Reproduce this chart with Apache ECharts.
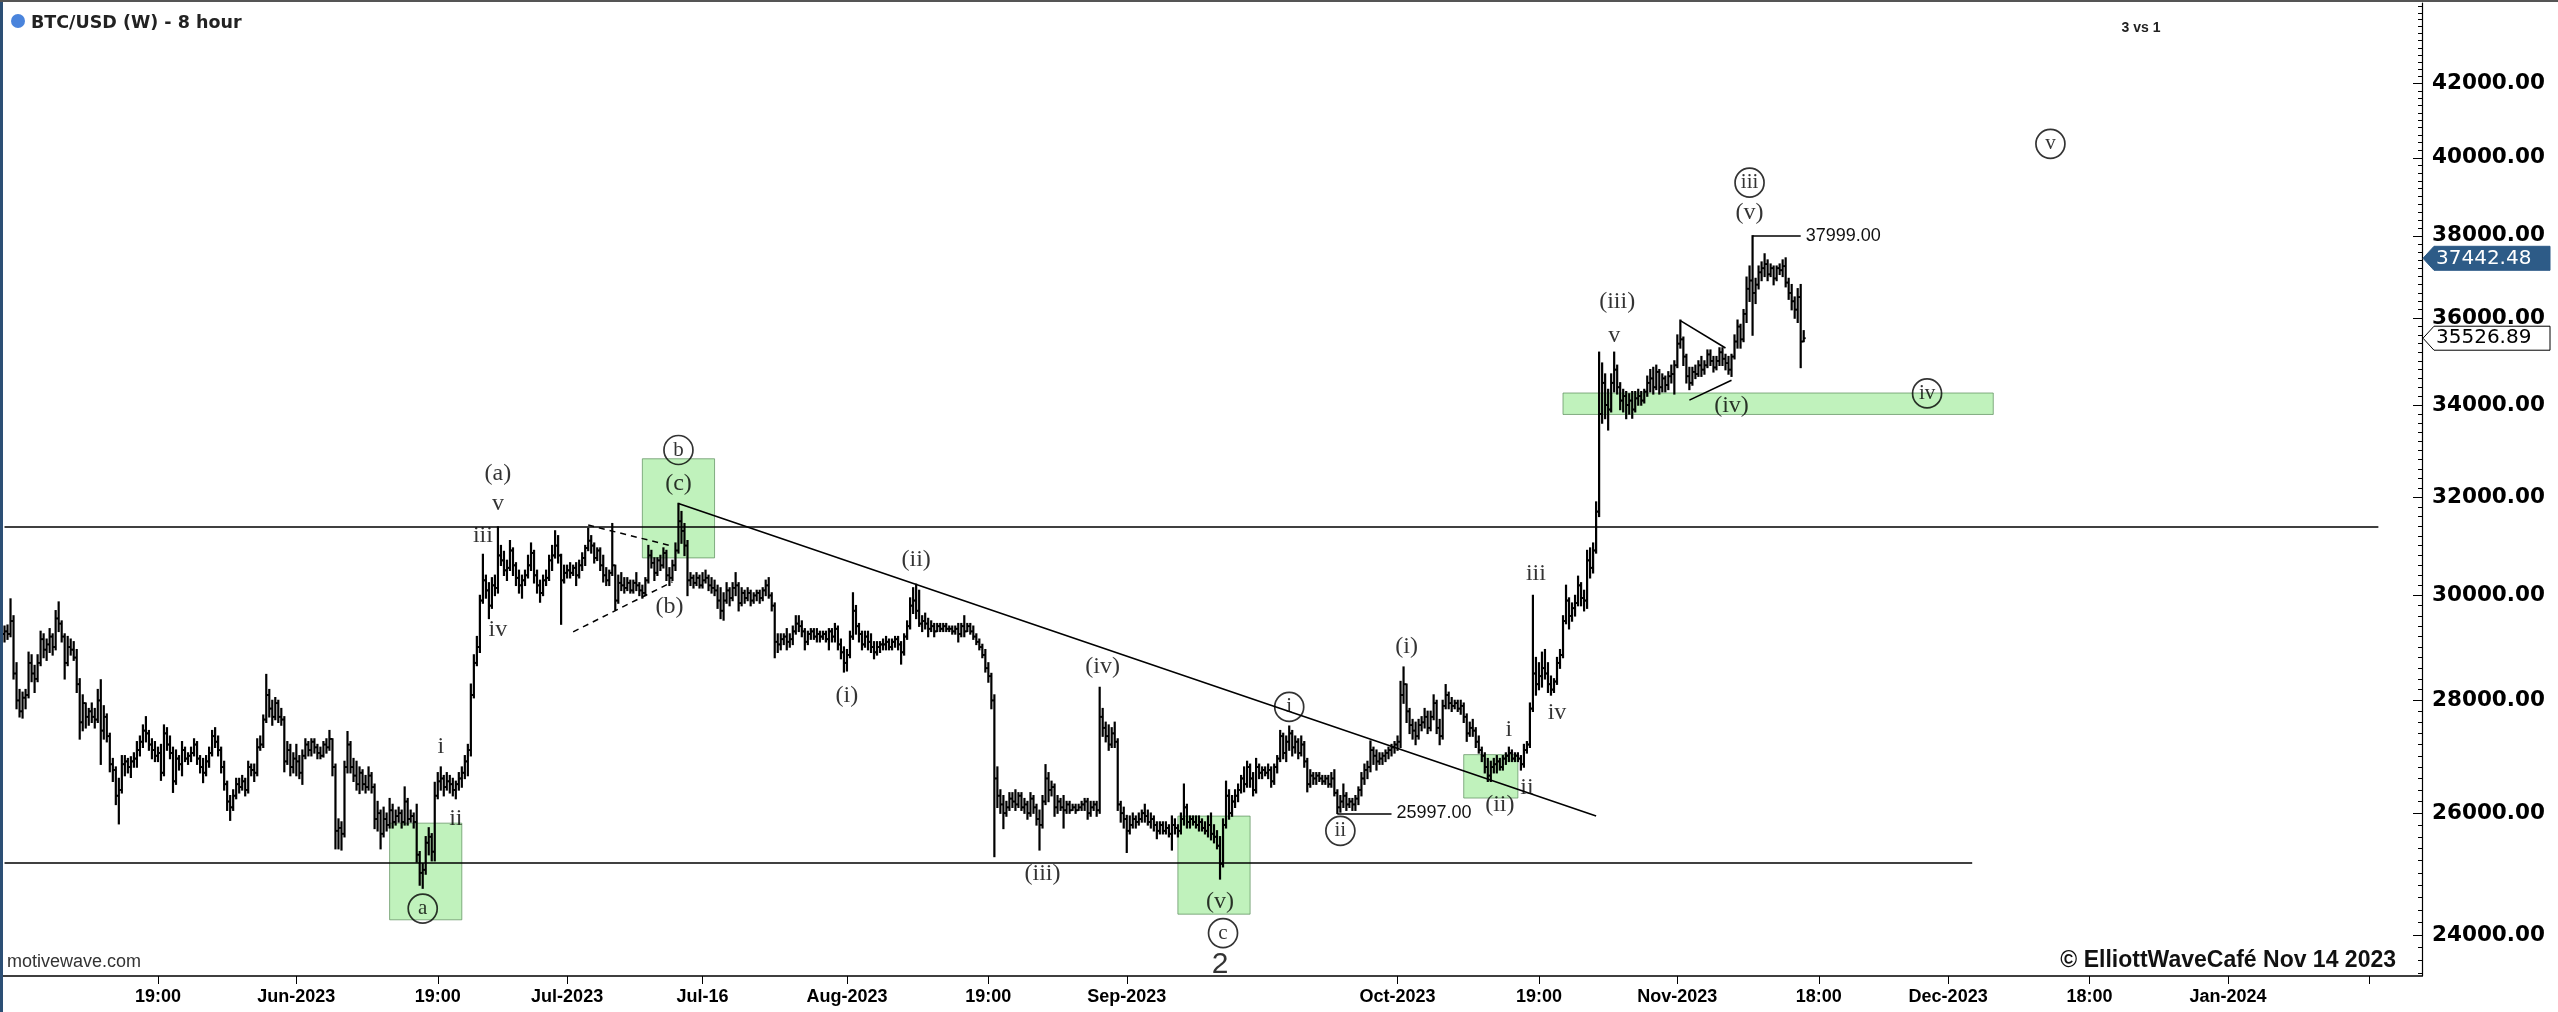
<!DOCTYPE html>
<html><head><meta charset="utf-8">
<script src="https://cdn.jsdelivr.net/npm/echarts@6/dist/echarts.min.js"></script>
<style>html,body{margin:0;padding:0;background:#fff;overflow:hidden}#chart{width:2558px;height:1012px;}</style>
</head><body><div id="chart"></div>
<script>
// ---- 8-hour OHLC bars [open, high, low, close], first bar = 2023-04-29 19:00 ----
const barsAprMay = [
[29250,29400,29100,29300],[29300,29420,29150,29250],[29250,29930,29200,29500],[29500,29600,28400,28500],[28500,28700,27850,28000],
[28000,28200,27700,27800],[27800,28150,27680,28050],[28050,28200,27850,28100],[28100,28900,28050,28700],[28700,28850,28350,28500],
[28500,28650,28150,28400],[28400,28850,28350,28700],[28700,29300,28650,29150],[29150,29250,28800,28950],[28950,29150,28750,29050],
[29050,29350,28900,29200],[29200,29250,28850,29000],[29000,29700,28950,29550],[29550,29870,29300,29450],[29450,29500,29100,29200],
[29200,29250,28400,28700],[28700,29200,28650,29000],[29000,29150,28850,28950],[28950,29100,28750,28800],[28800,28950,28150,28300],
[28300,28400,27300,27600],[27600,28100,27450,27950],[27950,27950,27500,27700],[27700,27850,27550,27800],[27800,27950,27600,27700],
[27700,27850,27500,27650],[27650,28200,27600,28000],[28000,28380,26850,27450],[27450,27900,27300,27700],[27700,27750,27250,27350],
[27350,27400,26720,26850],[26850,26950,26550,26750],[26750,26800,26150,26300],[26300,26600,25820,26400],[26400,27000,26350,26850],
[26850,27000,26650,26900],[26900,26950,26700,26800],[26800,26980,26620,26900],[26900,27050,26800,26950],[26950,27250,26800,27100],
[27100,27350,27000,27250],[27250,27550,27150,27450],[27450,27700,27250,27400],[27400,27450,27100,27200],[27200,27300,26950,27100],
[27100,27250,26900,27000],[27000,27150,26900,27050],[27050,27200,26570,26700],[26700,27550,26650,27400],[27400,27500,27100,27200],
[27200,27350,26950,27050],[27050,27150,26360,26550],[26550,27100,26500,26950],[26950,27000,26750,26850],[26850,27250,26650,27100],
[27100,27150,26900,26950],[26950,27050,26850,27000],[27000,27150,26900,27050],[27050,27300,27000,27200],[27200,27250,26850,26950],
[26950,27000,26700,26800],[26800,26950,26530,26700],[26700,27000,26650,26900],[26900,27150,26800,27050],[27050,27450,27000,27350],
[27350,27500,27150,27250],[27250,27350,27000,27100],[27100,27150,26700,26800],[26800,26900,26400,26500],[26500,26550,26050,26200],
[26200,26300,25880,26100],[26100,26400,26050,26300],[26300,26600,26250,26500],[26500,26600,26350,26450],[26450,26650,26400,26550],
[26550,26600,26300,26400],[26400,26900,26350,26800],[26800,26850,26650,26750],[26750,26850,26550,26700],[26700,27300,26650,27150],
[27150,27350,27100,27200],[27200,27730,27150,27650],[27650,28480,27600,28100],[28100,28200,27700,27850],[27850,28000,27550,27700],
[27700,28050,27650,27950],[27950,28000,27600,27700],[27700,27850,27550,27650],[27650,27700,26720,26900],[26900,27250,26850,27100],
[27100,27200,26650,26800],[26800,27050,26700,26950]
];
const barsJun = [
[26950,27200,26650,26900],[26900,27000,26600,26700],[26700,27100,26500,27000],[27000,27300,26950,27200],[27200,27250,27000,27100],
[27100,27300,27000,27250],[27250,27300,27050,27150],[27150,27200,26950,27050],[27050,27150,26950,27000],[27000,27250,26980,27200],
[27200,27300,27050,27150],[27150,27450,27100,27300],[27300,27300,26650,26800],[26800,26850,25400,25700],[25700,25900,25400,25750],
[25750,25850,25380,25650],[25650,26900,25600,26800],[26800,27430,26700,27200],[27200,27250,26700,26800],[26800,26950,26550,26650],
[26650,26900,26400,26500],[26500,26800,26340,26700],[26700,26750,26400,26500],[26500,26650,26350,26450],[26450,26800,26400,26650],
[26650,26700,26350,26450],[26450,26500,25740,25900],[25900,26200,25700,26000],[26000,26050,25400,25650],[25650,26100,25600,25900],
[25900,26000,25700,25800],[25800,26250,25750,26050],[26050,26150,25750,25850],[25850,26050,25800,25950],[25950,26100,25850,26000],
[26000,26050,25750,25850],[25850,26450,25800,26200],[26200,26250,25800,25900],[25900,26050,25850,25950],[25950,26000,25750,25850],
[25850,26150,25180,25300],[25300,25350,24800,25000],[25000,25150,24750,25050],[25050,25600,24980,25500],[25500,25750,25300,25600],
[25600,25650,25200,25350],[25350,26530,25200,26300],[26300,26700,26250,26550],[26550,26800,26400,26600],[26600,26650,26300,26450],
[26450,26700,26400,26550],[26550,26650,26350,26500],[26500,26600,26300,26400],[26400,26550,26250,26500],[26500,26700,26400,26600],
[26600,26800,26450,26700],[26700,27000,26600,26900],[26900,27200,26650,27100],[27100,28300,27000,28100],[28100,28850,28050,28700],
[28700,29200,28650,29000],[29000,30000,28900,29900],[29900,30820,29850,30300],[30300,30400,29950,30100],[30100,30250,29550,29800],
[29800,30350,29750,30200],[30200,30400,30000,30150],[30150,31380,30050,30800],[30800,31000,30600,30700],[30700,30880,30400,30500],
[30500,30700,30300,30550],[30550,31100,30500,30900],[30900,30950,30400,30600],[30600,30650,30200,30350],[30350,30500,30050,30200],
[30200,30400,29950,30300],[30300,30500,30200,30400],[30400,30800,30350,30600],[30600,31050,30500,30850],[30850,30900,30250,30400],
[30400,30500,30050,30200],[30200,30300,29870,30050],[30050,30400,30000,30300],[30300,30500,30200,30350],[30350,30800,30300,30700],
[30700,31000,30500,30800],[30800,31300,30750,31000],[31000,31200,30650,30800],[30800,30820,29440,30300],[30300,30600,30250,30450]
];
const barsJul = [
[30450,30600,30350,30500],[30500,30650,30350,30450],[30450,30600,30400,30550],[30550,30650,30200,30400],[30400,30700,30350,30600],
[30600,30850,30500,30750],[30750,31000,30600,30950],[30950,31350,30900,31100],[31100,31200,30850,31000],[31000,31050,30650,30750],
[30750,30950,30700,30900],[30900,30950,30500,30600],[30600,30800,30270,30400],[30400,30550,30200,30300],[30300,30500,30200,30450],
[30450,31450,30400,30600],[30600,30600,29720,29900],[29900,30400,29850,30250],[30250,30450,30100,30200],[30200,30350,30050,30150],
[30150,30350,30100,30250],[30250,30300,30050,30100],[30100,30300,30050,30250],[30250,30450,30100,30200],[30200,30250,30000,30100],
[30100,30200,29950,30050],[30050,30350,30000,30300],[30300,31000,30250,30800],[30800,30900,30550,30650],[30650,30750,30300,30450],
[30450,30750,30400,30700],[30700,30800,30500,30600],[30600,30950,30550,30850],[30850,30900,30300,30400],[30400,30550,30200,30350],
[30350,30700,30300,30600],[30600,31050,30500,30900],[30900,31870,30850,31500],[31500,31700,31050,31300],[31300,31450,30800,31000],
[31000,31100,30000,30300],[30300,30450,30200,30350],[30350,30400,30150,30250],[30250,30450,30200,30350],[30350,30400,30150,30200],
[30200,30450,30150,30300],[30300,30500,30250,30350],[30350,30400,30100,30200],[30200,30350,30050,30150],[30150,30300,30000,30100],
[30100,30200,29750,29900],[29900,30150,29550,29700],[29700,30050,29520,29900],[29900,30250,29850,30100],[30100,30150,29800,29950],
[29950,30250,29900,30150],[30150,30450,30000,30200],[30200,30250,29700,29850],[29850,30150,29800,30050],[30050,30100,29850,29950],
[29950,30150,29900,30050],[30050,30100,29800,29900],[29900,30050,29850,30000],[30000,30100,29900,30050],[30050,30100,29850,29950],
[29950,30150,29900,30100],[30100,30300,30000,30200],[30200,30350,29950,30000],[30000,30050,29700,29800],[29800,29850,28800,29100],
[29100,29250,28900,29050],[29050,29250,28950,29150],[29150,29250,29050,29200],[29200,29350,28950,29100],[29100,29250,29000,29150],
[29150,29400,29050,29300],[29300,29600,29250,29450],[29450,29600,29300,29400],[29400,29500,29200,29300],[29300,29350,28950,29100],
[29100,29300,29050,29250],[29250,29350,29150,29300],[29300,29350,29150,29200],[29200,29350,29100,29250],[29250,29300,29100,29200],
[29200,29300,29150,29250],[29250,29300,29100,29150],[29150,29350,28950,29300],[29300,29350,29100,29200],[29200,29450,29100,29350],
[29350,29400,28950,29050],[29050,29150,28780,28900],[28900,29000,28530,28700]
];
const barsAug = [
[28700,28950,28550,28850],[28850,29300,28800,29200],[29200,30050,29150,29700],[29700,29800,29250,29400],[29400,29450,29100,29250],
[29250,29300,28950,29050],[29050,29300,29000,29200],[29200,29300,28950,29100],[29100,29250,28900,29000],[29000,29100,28780,28900],
[28900,29100,28850,29000],[29000,29100,28900,29050],[29050,29150,28950,29050],[29050,29200,28950,29100],[29100,29150,28950,29000],
[29000,29150,28950,29100],[29100,29200,29000,29150],[29150,29200,28950,29050],[29050,29100,28680,28900],[28900,29250,28850,29200],
[29200,29500,29150,29400],[29400,29950,29350,29800],[29800,30150,29650,29900],[29900,30220,29550,29700],[29700,30100,29400,29450],
[29450,29600,29300,29500],[29500,29650,29350,29450],[29450,29550,29200,29350],[29350,29500,29300,29400],[29400,29450,29200,29300],
[29300,29450,29300,29400],[29400,29450,29300,29350],[29350,29450,29300,29400],[29400,29450,29300,29350],[29350,29400,29300,29350],
[29350,29400,29250,29300],[29300,29400,29250,29350],[29350,29450,29100,29250],[29250,29450,29200,29400],[29400,29600,29200,29300],
[29300,29450,29300,29400],[29400,29450,29250,29300],[29300,29400,29150,29200],[29200,29250,29050,29100],[29100,29150,28950,29000],
[29000,29050,28800,28850],[28850,28950,28530,28600],[28600,28700,28340,28450],[28450,28500,27850,28000],[28000,28100,25270,26600],
[26600,26800,26100,26300],[26300,26400,26000,26150],[26150,26300,25740,26000],[26000,26200,25950,26100],[26100,26350,26050,26250],
[26250,26350,26100,26200],[26200,26400,26050,26150],[26150,26350,26100,26300],[26300,26350,26050,26100],[26100,26250,26000,26150],
[26150,26200,25900,26000],[26000,26350,25950,26250],[26250,26300,26000,26100],[26100,26150,25800,25900],[25900,26050,25380,25800],
[25800,26300,25750,26200],[26200,26840,26150,26600],[26600,26700,26200,26400],[26400,26550,26300,26450],[26450,26500,25950,26100],
[26100,26300,26000,26200],[26200,26250,26050,26100],[26100,26300,25750,26050],[26050,26200,26000,26150],[26150,26200,26000,26050],
[26050,26150,26050,26100],[26100,26150,26000,26050],[26050,26150,26050,26100],[26100,26200,26050,26150],[26150,26250,26050,26200],
[26200,26250,25900,26000],[26000,26200,25950,26100],[26100,26200,26050,26150],[26150,26200,25950,26050],[26050,28240,26000,27700],
[27700,27850,27350,27500],[27500,27600,27250,27350],[27350,27550,27100,27200],[27200,27500,27150,27400],[27400,27600,27150,27250],
[27250,27300,26050,26150],[26150,26200,25850,26000],[26000,26100,25750,25900]
];
const barsSep = [
[25900,25960,25340,25700],[25700,25950,25650,25800],[25800,26000,25750,25900],[25900,25950,25750,25850],[25850,26000,25800,25900],
[25900,26050,25850,26000],[26000,26150,25850,25950],[25950,26050,25800,25850],[25850,26000,25750,25900],[25900,25950,25700,25800],
[25800,25850,25570,25700],[25700,25850,25650,25800],[25800,25850,25650,25700],[25700,25850,25650,25750],[25750,25800,25600,25650],
[25650,25950,25380,25800],[25800,25900,25650,25750],[25750,25800,25600,25700],[25700,26000,25650,25900],[25900,26500,25800,26100],
[26100,26150,25750,25850],[25850,25950,25750,25900],[25900,25950,25800,25850],[25850,25950,25750,25800],[25800,25950,25700,25850],
[25850,25900,25700,25750],[25750,25850,25650,25700],[25700,25950,25600,25800],[25800,26000,25550,25650],[25650,25800,25500,25600],
[25600,25700,25400,25450],[25450,25600,24900,25150],[25150,25900,25100,25800],[25800,26550,25750,26300],[26300,26400,25900,26000],
[26000,26300,25950,26200],[26200,26400,26100,26300],[26300,26500,26200,26400],[26400,26650,26350,26600],[26600,26800,26370,26500],
[26500,26900,26450,26800],[26800,26850,26450,26600],[26600,26700,26300,26400],[26400,26950,26350,26800],[26800,26850,26600,26700],
[26700,26800,26600,26750],[26750,26800,26650,26700],[26700,26850,26600,26750],[26750,26800,26450,26550],[26550,26850,26500,26800],
[26800,27000,26700,26950],[26950,27450,26900,27350],[27350,27400,26950,27050],[27050,27350,26900,27250],[27250,27530,27100,27400],
[27400,27450,27000,27150],[27150,27350,27050,27250],[27250,27300,26950,27050],[27050,27350,27000,27200],[27200,27250,26800,26900],
[26900,26950,26370,26500],[26500,26750,26450,26650],[26650,26700,26500,26600],[26600,26700,26500,26650],[26650,26700,26550,26600],
[26600,26650,26500,26550],[26550,26650,26500,26600],[26600,26650,26450,26500],[26500,26700,26450,26600],[26600,26750,26300,26350],
[26350,26400,25997,26100],[26100,26300,26020,26200],[26200,26500,26100,26300],[26300,26350,26050,26150],[26150,26250,26100,26200],
[26200,26250,26050,26150],[26150,26300,26050,26250],[26250,26450,26150,26400],[26400,26700,26300,26600],[26600,26850,26500,26750],
[26750,26900,26600,26800],[26800,27260,26720,27100],[27100,27150,26850,27000],[27000,27100,26750,26900],[26900,27050,26850,26950],
[26950,27050,26850,27000],[27000,27100,26900,27050],[27050,27150,26950,27100],[27100,27200,27000,27150],[27150,27250,27050,27200]
];
const barsOct = [
[27200,27350,27100,27250],[27250,28350,27150,28100],[28100,28620,27950,28300],[28300,28300,27600,27800],[27800,27850,27400,27550],
[27550,27650,27300,27450],[27450,27600,27200,27350],[27350,27650,27300,27550],[27550,27700,27450,27600],[27600,27850,27500,27700],
[27700,27800,27400,27500],[27500,27800,27450,27700],[27700,28100,27650,27950],[27950,28000,27400,27500],[27500,27650,27200,27350],
[27350,28000,27300,27900],[27900,28290,27850,28100],[28100,28150,27850,27950],[27950,28050,27800,27900],[27900,28000,27850,27950],
[27950,28000,27800,27850],[27850,28000,27750,27900],[27900,27950,27600,27700],[27700,27750,27260,27400],[27400,27600,27350,27500],
[27500,27650,27350,27450],[27450,27500,27150,27250],[27250,27350,27050,27100],[27100,27150,26900,27000],[27000,27050,26700,26800],
[26800,26950,26550,26650],[26650,26900,26550,26800],[26800,26950,26700,26850],[26850,27000,26700,26900],[26900,26950,26750,26800],
[26800,27000,26750,26950],[26950,27050,26850,27000],[27000,27150,26900,27050],[27050,27100,26900,26950],[26950,27050,26900,27000],
[27000,27050,26900,26950],[26950,27000,26750,26850],[26850,27200,26800,27100],[27100,27250,27050,27200],[27200,27950,27150,27850],
[27850,30000,27800,28500],[28500,28800,28100,28300],[28300,28700,28200,28450],[28450,28900,28250,28600],[28600,28950,28400,28500],
[28500,28700,28150,28300],[28300,28450,28100,28200],[28200,28400,28150,28350],[28350,28800,28300,28700],[28700,28950,28600,28850],
[28850,29600,28800,29500],[29500,30200,29450,29900],[29900,29950,29350,29600],[29600,29850,29500,29750],[29750,30000,29600,29850],
[29850,30380,29800,30200],[30200,30250,29800,29950],[29950,30100,29700,29900],[29900,30900,29750,30700],[30700,30950,30350,30550],
[30550,31050,30450,30900],[30900,31900,30850,31700],[31700,35200,31600,33800],[33800,34950,33600,34500],[34500,34700,33700,34000],
[34000,34350,33450,33900],[33900,34700,33850,34500],[34500,35200,34300,34800],[34800,34900,34250,34400],[34400,34500,33900,34100],
[34100,34350,33850,34200],[34200,34300,33700,34000],[34000,34250,33800,34100],[34100,34300,33710,33900],[33900,34300,33850,34150],
[34150,34350,34000,34200],[34200,34300,34000,34100],[34100,34350,34050,34300],[34300,34650,34200,34500],[34500,34800,34300,34600],
[34600,34850,34250,34400],[34400,34900,34350,34750],[34750,34800,34250,34400],[34400,34700,34300,34600],[34600,34650,34300,34450],
[34450,34750,34350,34650],[34650,34900,34500,34700],[34700,35000,34250,34900]
];
const barsNov = [
[34900,35600,34850,35400],[35400,35950,35300,35500],[35500,35550,34900,35100],[35100,35150,34500,34650],[34650,34850,34350,34500],
[34500,34850,34450,34750],[34750,34900,34600,34700],[34700,35000,34650,34900],[34900,35100,34650,34800],[34800,35000,34700,34900],
[34900,35250,34850,35150],[35150,35250,34900,35000],[35000,35100,34750,34850],[34850,35100,34800,35000],[35000,35300,34900,35200],
[35200,35300,34900,35050],[35050,35150,34800,34950],[34950,35100,34700,34800],[34800,35150,34650,35100],[35100,35600,35050,35450],
[35450,35950,35300,35800],[35800,35850,35300,35500],[35500,36200,35450,36100],[36100,36980,35900,36700],[36700,37250,36400,36900],
[36900,37999,35600,36600],[36600,36950,36350,36800],[36800,37250,36700,37100],[37100,37350,36900,37200],[37200,37550,37000,37300],
[37300,37400,36900,37050],[37050,37300,37000,37200],[37200,37250,36800,36950],[36950,37250,36900,37200],[37200,37300,37050,37150],
[37150,37400,37000,37250],[37250,37450,36750,36850],[36850,36950,36450,36600],[36600,36800,36200,36400],[36400,36500,36000,36200],
[36200,36700,35900,36500],[36500,36800,34850,35450],[35450,35700,35450,35527]
];

// ---- axis ticks / labels ----
const yTickValues = [24000,26000,28000,30000,32000,34000,36000,38000,40000,42000];
const xTickLabels = [
['2023-05-16 19:00','19:00'],['2023-06-01 03:00','Jun-2023'],['2023-06-16 19:00','19:00'],['2023-07-01 03:00','Jul-2023'],
['2023-07-16 03:00','Jul-16'],['2023-08-01 03:00','Aug-2023'],['2023-08-16 19:00','19:00'],['2023-09-01 03:00','Sep-2023'],
['2023-10-01 03:00','Oct-2023'],['2023-10-16 19:00','19:00'],['2023-11-01 03:00','Nov-2023'],['2023-11-16 19:00','18:00'],
['2023-12-01 03:00','Dec-2023'],['2023-12-16 19:00','18:00'],['2024-01-01 03:00','Jan-2024'],['2024-01-16 19:00','']
];
const lastPrice = 35526.89;
const refPrice = 37442.48;

// ---- Elliott wave annotations: [bar index, price, text] ----
const waveLabels = [
[164,32500,'(a)'],[164,31870,'v'],[159,31210,'iii'],[164,29330,'iv'],[145,27170,'i'],[150,25910,'ii'],
[221,29780,'(b)'],[224,32290,'(c)'],[303,30710,'(ii)'],[280,28090,'(i)'],[345,24990,'(iii)'],[365,28620,'(iv)'],
[404,24530,'(v)'],[466,29010,'(i)'],[497,26150,'(ii)'],[500,27470,'i'],[506,26440,'ii'],[509,30430,'iii'],
[516,27770,'iv'],[536,36380,'(iii)'],[535,35590,'v'],[574,33980,'(iv)'],[580,38590,'(v)']
];
const circledLabels = [
[139,24420,'a'],[224,33010,'b'],[405,24030,'c'],[427,27880,'i'],[444,25700,'ii'],[580,39350,'iii'],[639,34260,'iv'],[680,40370,'v']
];
const degreeLabels = [[404,23540,'2']];
// lines: [i1, p1, i2, p2]
const horizontalLines = [[0,31380,789,31380],[0,25160,654,25160]];
const trendLines = [[224,31870,529,25950]];
const dashedLines = [[194,31420,221,31005],[189,29290,222,30270]];
const triangleLines = [[557,35940,572,35300],[560,34110,574,34560]];
const priceNotes = [[443,25997,461,'25997.00'],[581,37999,597,'37999.00']];
// zones: [i1, pTop, i2, pBottom]
const zones = [[128,25830,152,24240],[212,32820,236,30750],[390,25950,414,24330],[485,27020,503,26260],[518,34270,661,33790]];

// ---- build ----
const bars = [].concat(barsAprMay, barsJun, barsJul, barsAug, barsSep, barsOct, barsNov);
const ohlcData = bars.map((b, k) => [k, b[0], b[1], b[2], b[3]]);
const categoryCount = 804;
const startMs = Date.UTC(2023, 3, 29, 19, 0);
const pad = n => (n < 10 ? '0' : '') + n;
const categories = [];
for (let k = 0; k < categoryCount; k++) {
  const d = new Date(startMs + k * 8 * 3600 * 1000);
  categories.push(d.getUTCFullYear() + '-' + pad(d.getUTCMonth() + 1) + '-' + pad(d.getUTCDate()) + ' ' + pad(d.getUTCHours()) + ':00');
}
const xLabelMap = new Map(xTickLabels);
const minorTicks = [];
for (let v = 23400; v <= 44200; v += 200) minorTicks.push(v);
const yMin = 23361, yMax = 44284;

const chart = echarts.init(document.getElementById('chart'), null, {renderer: 'canvas'});

function renderBar(params, api) {
  const idx = api.value(0);
  const o = api.coord([idx, api.value(1)]);
  const h = api.coord([idx, api.value(2)]);
  const l = api.coord([idx, api.value(3)]);
  const c = api.coord([idx, api.value(4)]);
  const half = api.size([1, 0])[0] * 0.5;
  const s = '#000';
  return {type: 'group', children: [
    {type: 'line', shape: {x1: h[0], y1: h[1] - 0.7, x2: l[0], y2: l[1] + 0.7}, style: {stroke: s, lineWidth: 2.2}},
    {type: 'line', shape: {x1: o[0] - half - 0.5, y1: o[1], x2: o[0], y2: o[1]}, style: {stroke: s, lineWidth: 1.8}},
    {type: 'line', shape: {x1: c[0], y1: c[1], x2: c[0] + half + 0.5, y2: c[1]}, style: {stroke: s, lineWidth: 1.8}}
  ]};
}

const solid = {width: 1.6, color: '#000', type: 'solid'};
const segs = (arr, style) => arr.map(a => [{coord: [a[0], a[1]], lineStyle: style}, {coord: [a[2], a[3]]}]);
const markLineData = [].concat(
  segs(horizontalLines, solid),
  segs(trendLines, solid),
  segs(dashedLines, {width: 1.5, color: '#000', type: [6, 5]}),
  segs(triangleLines, solid),
  priceNotes.map(a => [{coord: [a[0], a[1]], lineStyle: solid,
    label: {show: true, position: 'end', formatter: a[3], fontFamily: 'Liberation Sans, Arial, sans-serif', fontSize: 18, color: '#111', distance: 5}},
    {coord: [a[2], a[1]]}])
);

const serif = 'Liberation Serif, DejaVu Serif, serif';
const option = {
  animation: false,
  backgroundColor: '#fff',
  grid: {left: 3, right: 136, top: 3, bottom: 36, containLabel: false},
  xAxis: {
    type: 'category', data: categories, boundaryGap: true,
    axisLine: {show: true, lineStyle: {color: '#000', width: 1.5}},
    axisTick: {show: true, alignWithLabel: true, interval: (i, v) => xLabelMap.has(v), length: 8, lineStyle: {color: '#000', width: 1}},
    axisLabel: {show: true, interval: (i, v) => xLabelMap.has(v), formatter: v => xLabelMap.get(v) || '',
      fontFamily: 'Liberation Sans, Arial, sans-serif', fontWeight: 'bold', fontSize: 18, color: '#000', margin: 12},
    splitLine: {show: false}
  },
  yAxis: [{
    type: 'log', position: 'right', min: yMin, max: yMax,
    axisLine: {show: true, lineStyle: {color: '#000', width: 1.2}},
    axisTick: {show: true, inside: true, length: 9, customValues: yTickValues, lineStyle: {color: '#000'}},
    axisLabel: {show: true, customValues: yTickValues, formatter: v => Number(v).toFixed(2),
      fontFamily: 'DejaVu Sans, Verdana, sans-serif', fontWeight: 'bold', fontSize: 21.5, color: '#000', margin: 10},
    splitLine: {show: false}
  }, {
    type: 'log', position: 'right', min: yMin, max: yMax,
    axisLine: {show: false},
    axisTick: {show: true, inside: true, length: 4, customValues: minorTicks, lineStyle: {color: '#000'}},
    axisLabel: {show: false},
    splitLine: {show: false}
  }],
  series: [
    {type: 'custom', name: 'BTC/USD', renderItem: renderBar, data: ohlcData, encode: {x: 0, y: [1, 2, 3, 4]}, clip: true, z: 2},
    {type: 'line', name: 'lines', data: [], z: 3, silent: true,
      markLine: {silent: true, symbol: ['none', 'none'], animation: false, label: {show: false}, lineStyle: solid, data: markLineData},
      markArea: {silent: true, animation: false,
        itemStyle: {color: 'rgba(105,225,95,0.42)', borderColor: 'rgba(90,140,90,0.7)', borderWidth: 1},
        data: zones.map(z => [{coord: [z[0], z[1]]}, {coord: [z[2], z[3]]}])}},
    {type: 'scatter', name: 'waves', data: waveLabels, symbolSize: 1, itemStyle: {color: 'rgba(0,0,0,0)'}, z: 4, silent: true,
      label: {show: true, position: 'inside', formatter: p => p.value[2], fontFamily: serif, fontSize: 24, color: '#000'}},
    {type: 'scatter', name: 'circled', data: circledLabels, symbol: 'circle', symbolSize: 29, z: 4, silent: true,
      itemStyle: {color: 'rgba(255,255,255,0)', borderColor: '#000', borderWidth: 1.7},
      label: {show: true, position: 'inside', formatter: p => p.value[2], fontFamily: serif, fontSize: 21, color: '#000'}},
    {type: 'scatter', name: 'degree', data: degreeLabels, symbolSize: 1, itemStyle: {color: 'rgba(0,0,0,0)'}, z: 4, silent: true,
      label: {show: true, position: 'inside', formatter: p => p.value[2], fontFamily: 'Liberation Sans, sans-serif', fontSize: 30, color: '#000'}}
  ]
};
chart.setOption(option);

// price tags on the value axis, placed through the axis scale
const axisX = 2422;
function tag(price, text, bg, fg, border) {
  const y = chart.convertToPixel({yAxisIndex: 0}, price);
  return [
    {type: 'polygon', shape: {points: [[axisX + 1, y], [axisX + 12, y - 12], [2550, y - 12], [2550, y + 12], [axisX + 12, y + 12]]},
      style: {fill: bg, stroke: border, lineWidth: 1}, z: 50},
    {type: 'text', x: axisX + 14, y: y, style: {text: text, fill: fg, font: '20px DejaVu Sans, Verdana, sans-serif', verticalAlign: 'middle', align: 'left'}, z: 51}
  ];
}
chart.setOption({graphic: [].concat(
  [
    {type: 'rect', shape: {x: 0, y: 0, width: 3, height: 1012}, style: {fill: '#2c4f75'}, z: 60},
    {type: 'rect', shape: {x: 0, y: 0, width: 2558, height: 2}, style: {fill: '#555'}, z: 60},
    {type: 'circle', shape: {cx: 18, cy: 21, r: 7}, style: {fill: '#4a84dc'}, z: 60},
    {type: 'text', x: 31, y: 23, style: {text: 'BTC/USD (W) - 8 hour', fill: '#222', font: 'bold 17.5px DejaVu Sans, Verdana, sans-serif', verticalAlign: 'middle'}, z: 60},
    {type: 'text', x: 2141, y: 28, style: {text: '3 vs 1', fill: '#222', font: 'bold 14px Liberation Sans, Arial, sans-serif', verticalAlign: 'middle', align: 'center'}, z: 60},
    {type: 'text', x: 7, y: 962, style: {text: 'motivewave.com', fill: '#333', font: '18px Liberation Sans, Arial, sans-serif', verticalAlign: 'middle'}, z: 60},
    {type: 'text', x: 2396, y: 961, style: {text: '\u00A9 ElliottWaveCaf\u00E9 Nov 14 2023', fill: '#111', font: 'bold 23px Liberation Sans, sans-serif', verticalAlign: 'middle', align: 'right'}, z: 60}
  ],
  tag(refPrice, refPrice.toFixed(2), '#2d5b87', '#fff', '#2d5b87'),
  tag(lastPrice, lastPrice.toFixed(2), '#fff', '#000', '#000')
)});
</script>
</body></html>
